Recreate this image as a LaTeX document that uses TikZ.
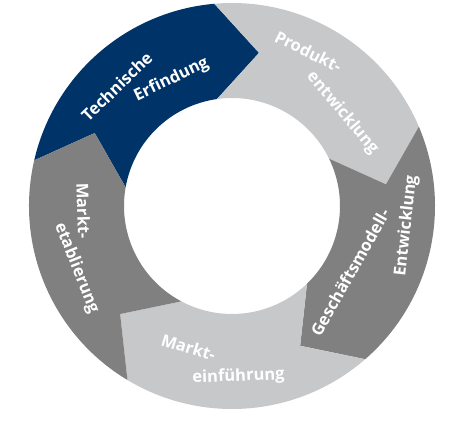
\documentclass[tikz,border=0pt]{standalone}
\usepackage{fontspec}
\setmainfont{Open Sans}
\definecolor{tblue}{RGB}{0,52,105}
\definecolor{lgray}{RGB}{199,200,202}
\definecolor{dgray}{RGB}{128,128,128}
\begin{document}
\begin{tikzpicture}[x=1pt,y=1pt,
  lbl/.style={text=white,inner sep=0pt,font=\fontsize{16.5}{19}\selectfont\bfseries}]
\useasboundingbox (0,0) rectangle (459,434);
\fill[white] (0,0) rectangle (459,434);
\begin{scope}[shift={(232,228)}]
\foreach \k/\col in {0/tblue,1/lgray,2/dgray,3/lgray,4/dgray}{
  \pgfmathsetmacro\os{95-72*(\k-1)}
  \pgfmathsetmacro\is{98-72*(\k-1)}
  \pgfmathsetmacro\ts{80-72*(\k-1)}
  \pgfmathsetmacro\oe{95-72*\k}
  \pgfmathsetmacro\ie{98-72*\k}
  \pgfmathsetmacro\te{80-72*\k}
  \fill[\col] (\os:203) arc[start angle=\os, end angle=\oe, radius=203]
    -- (\te:155.5) -- (\ie:108) arc[start angle=\ie, end angle=\is, radius=108]
    -- (\ts:155.5) -- cycle;
}
\node[lbl,rotate=44] (te1) at (134:166) {Technische};
\node[lbl,rotate=25.6] (te2) at (115.6:140) {Erfindung};
\node[lbl,rotate=-26.3] (pe1) at (63.7:172.4) {Produkt-};
\node[lbl,rotate=-49.9] (pe2) at (40.1:144.4) {entwicklung};
\node[lbl,rotate=60.6] (ge1) at (-29.4:135.4) {Geschäftsmodell-};
\node[lbl,rotate=83.6] (ge2) at (-6.4:175.6) {Entwicklung};
\node[lbl,rotate=-17.1] (me1) at (-107.1:148) {Markt-};
\node[lbl,rotate=2.2] (me2) at (-87.8:171) {einführung};
\node[lbl,rotate=-88.1] (ma1) at (181.9:148.6) {Markt-};
\node[lbl,rotate=-68.3] (ma2) at (201.7:167.4) {etablierung};
\end{scope}
\end{tikzpicture}
\end{document}
